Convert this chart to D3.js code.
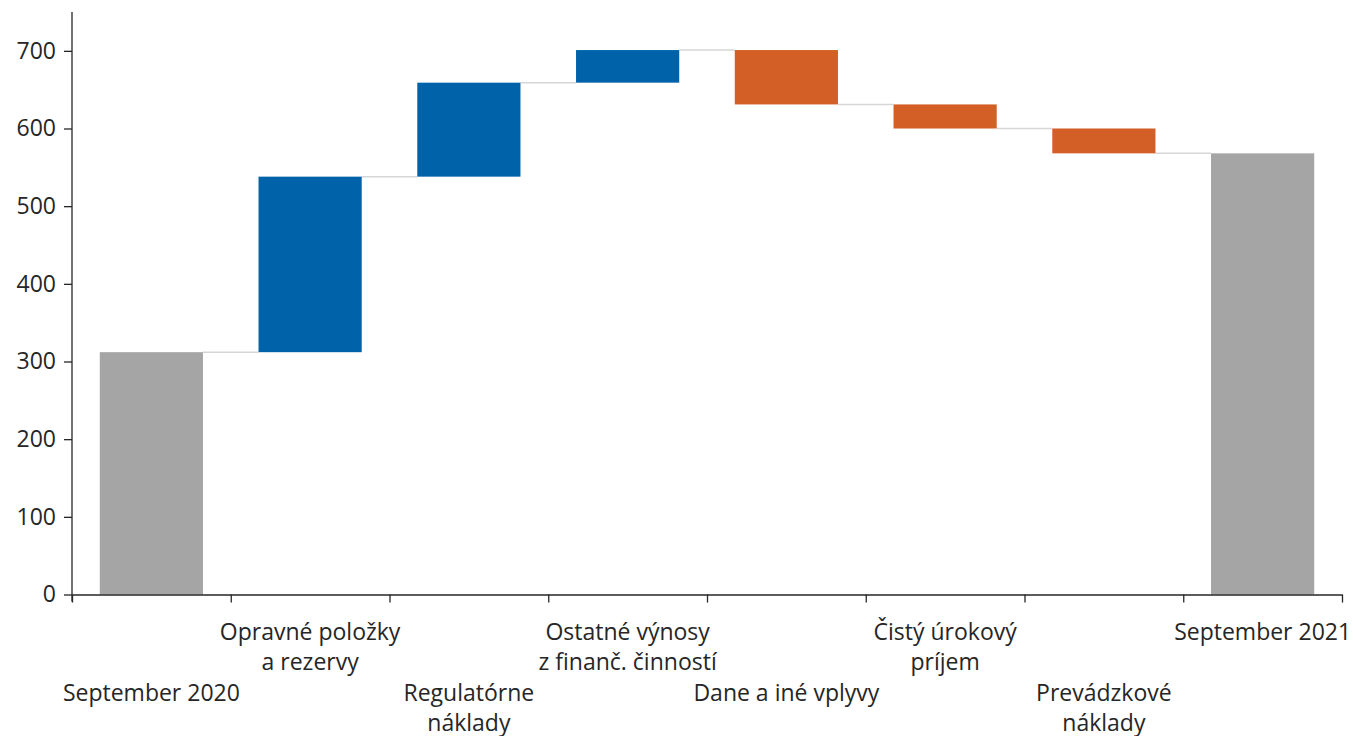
<!DOCTYPE html>
<html>
<head>
<meta charset="utf-8">
<script src="https://cdn.jsdelivr.net/npm/d3@7"></script>
<style>
  html, body { margin: 0; padding: 0; background: #fff; }
  svg { display: block; }
  .axis text { font-family: "Open Sans", sans-serif; font-size: 23px; fill: #262626; }
  .axis path, .axis line { stroke: #262626; stroke-width: 1.3; }
  .xlab { font-family: "Open Sans", sans-serif; font-size: 23px; fill: #262626; }
</style>
</head>
<body>
<svg id="chart" width="1353" height="736"></svg>
<script>
// Waterfall: zisk September 2020 -> September 2021
const categories = [
  "September 2020",
  "Opravné položky|a rezervy",
  "Regulatórne|náklady",
  "Ostatné výnosy|z finanč. činností",
  "Dane a iné vplyvy",
  "Čistý úrokový|príjem",
  "Prevádzkové|náklady",
  "September 2021"
];
const startValue = 312;
const changes = [226, 121, 42, -70, -31, -32];
const endValue = 568;
const yTicks = [0, 100, 200, 300, 400, 500, 600, 700];

const colors = { total: "#a5a5a5", up: "#0063a9", down: "#d35f27", link: "#d6d6d6" };

// Build bar segments from the running sum
const bars = [];
bars.push({ cat: categories[0], y0: 0, y1: startValue, type: "total" });
let running = startValue;
changes.forEach((d, i) => {
  bars.push({ cat: categories[i + 1], y0: running, y1: running + d, type: d >= 0 ? "up" : "down" });
  running += d;
});
bars.push({ cat: categories[categories.length - 1], y0: 0, y1: endValue, type: "total" });

const svg = d3.select("#chart");
const plotLeft = 72, plotRight = 1342, plotTop = 12, plotBottom = 594.5;

const x = d3.scaleBand().domain(categories).range([plotLeft, plotRight])
  .paddingInner(0.35).paddingOuter(0.175);
const slot = d3.scaleLinear().domain([0, categories.length]).range([plotLeft, plotRight]);
const y = d3.scaleLinear().domain([0, 750]).range([plotBottom, plotTop]);

// Connectors between consecutive bars
const links = bars.slice(0, -1).map((b, i) => ({
  x1: x(b.cat) + x.bandwidth(), x2: x(bars[i + 1].cat), v: b.y1
}));
svg.append("g").selectAll("line").data(links).join("line")
  .attr("x1", d => d.x1).attr("x2", d => d.x2)
  .attr("y1", d => y(d.v)).attr("y2", d => y(d.v))
  .attr("stroke", colors.link).attr("stroke-width", 1.5);

// Bars
svg.append("g").selectAll("rect").data(bars).join("rect")
  .attr("x", d => x(d.cat))
  .attr("width", x.bandwidth())
  .attr("y", d => y(Math.max(d.y0, d.y1)))
  .attr("height", d => Math.abs(y(d.y0) - y(d.y1)))
  .attr("fill", d => colors[d.type]);

// Y axis
const yAxis = svg.append("g").attr("class", "axis")
  .attr("transform", `translate(${plotLeft},0)`)
  .call(d3.axisLeft(y).tickValues(yTicks).tickSize(8).tickPadding(8).tickSizeOuter(0));
yAxis.select(".domain").attr("d", `M0,${plotTop}V${plotBottom + 7}`);

// X axis with ticks at the slot boundaries
svg.append("g").attr("class", "axis")
  .attr("transform", `translate(0,${plotBottom})`)
  .call(d3.axisBottom(slot).ticks(categories.length).tickSize(8).tickFormat("").tickSizeOuter(0));

// Category labels, staggered on two rows
const labels = svg.append("g");
categories.forEach((c, i) => {
  const lines = c.split("|");
  const baseY = i % 2 === 1 ? 640 : 701;
  const cx = x(c) + x.bandwidth() / 2;
  const t = labels.append("text").attr("class", "xlab")
    .attr("text-anchor", "middle")
    .attr("x", cx)
    .attr("y", baseY);
  lines.forEach((ln, k) => {
    t.append("tspan").attr("x", cx)
      .attr("dy", k === 0 ? 0 : 29.5).text(ln);
  });
});
</script>
</body>
</html>
